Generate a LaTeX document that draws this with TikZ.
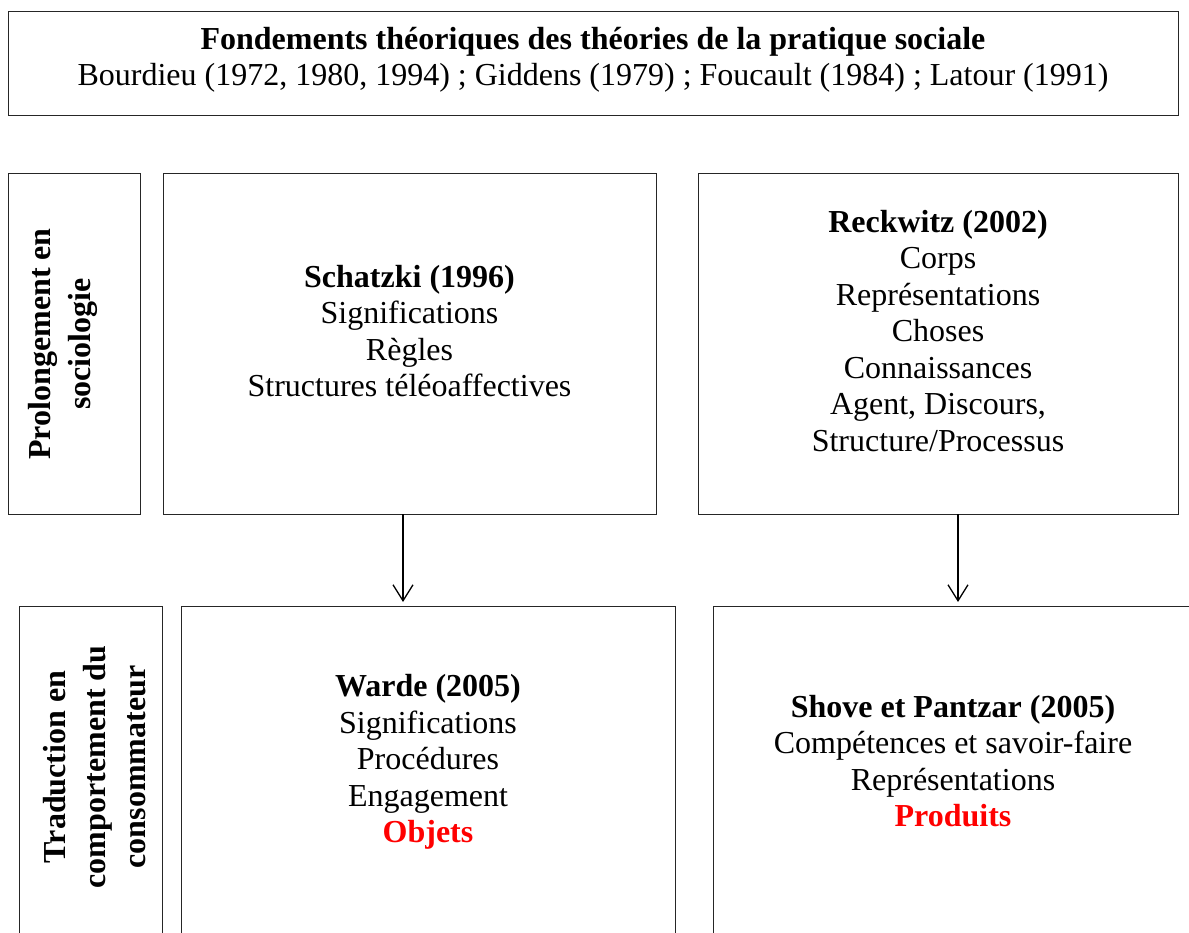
\documentclass[tikz,border=0pt]{standalone}
\usepackage{fontspec}
\setmainfont{Liberation Serif}
\usetikzlibrary{arrows.meta}
\begin{document}
\begin{tikzpicture}[x=1pt,y=-1pt,
  box/.style={draw=black!85,line width=0.9pt,inner sep=0pt,outer sep=0pt,rectangle},
  txt/.style={align=center,inner sep=0pt,font=\fontsize{32}{36.5}\selectfont},
  side/.style={align=center,inner sep=0pt,rotate=90,font=\fontsize{32}{40}\selectfont\bfseries},
  arr/.style={line width=1.3pt,-{Straight Barb[length=16pt,width=20pt,line width=1.3pt]}}]
\clip (0,0) rectangle (1189,933);
\useasboundingbox (0,0) rectangle (1189,933);
% boxes
\node[box,minimum width=1170pt,minimum height=104pt] (top) at (593,63) {};
\node[box,minimum width=132pt,minimum height=341pt] (lab1) at (74,343.5) {};
\node[box,minimum width=493pt,minimum height=341pt] (sch) at (409.5,343.5) {};
\node[box,minimum width=480pt,minimum height=341pt] (rec) at (938,343.5) {};
\node[box,minimum width=143pt,minimum height=400pt] (lab2) at (90.5,806) {};
\node[box,minimum width=494pt,minimum height=400pt] (war) at (428,806) {};
\node[box,minimum width=480pt,minimum height=400pt] (sho) at (953,806) {};
% texts
\node[txt] (topt) at (593,60) {\textbf{Fondements théoriques des théories de la pratique sociale}\\Bourdieu (1972, 1980, 1994) ; Giddens (1979) ; Foucault (1984) ; Latour (1991)};
\node[side] (lab1t) at (63,344) {Prolongement en\\sociologie};
\node[side] (lab2t) at (95,767) {Traduction en\\comportement du\\consommateur};
\node[txt] (scht) at (409.5,331) {\textbf{Schatzki (1996)}\\Significations\\Règles\\Structures téléoaffectives};
\node[txt] (rect) at (938,331) {\textbf{Reckwitz (2002)}\\Corps\\Représentations\\Choses\\Connaissances\\Agent, Discours,\\Structure/Processus};
\node[txt] (wart) at (428,762) {\textbf{Warde (2005)}\\Significations\\Procédures\\Engagement\\\textcolor{red}{\textbf{Objets}}};
\node[txt] (shot) at (953,761) {\textbf{Shove et Pantzar (2005)}\\Compétences et savoir-faire\\Représentations\\\textcolor{red}{\textbf{Produits}}};
% arrows
\draw[arr] (sch.south -| 403,0) -- (403,602);
\draw[arr] (rec.south -| 958,0) -- (958,602);
\end{tikzpicture}
\end{document}
